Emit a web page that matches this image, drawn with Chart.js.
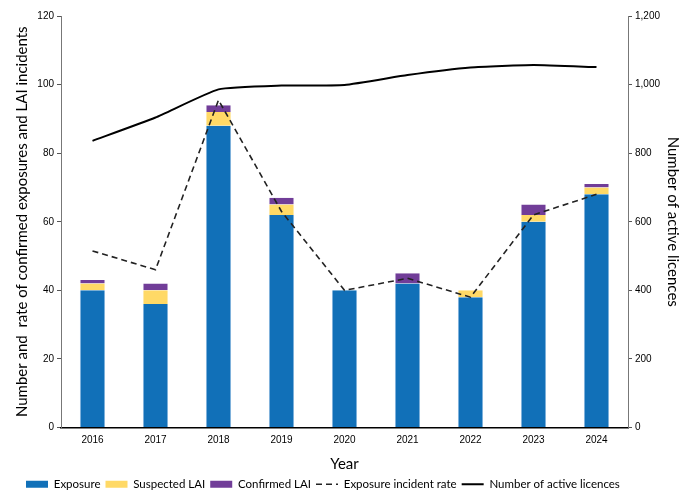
<!DOCTYPE html>
<html>
<head>
<meta charset="utf-8">
<script src="https://cdn.jsdelivr.net/npm/chart.js@4.4.1/dist/chart.umd.min.js"></script>
<style>
html,body{margin:0;padding:0;background:#fff;}
#wrap{width:692px;height:502px;}
</style>
</head>
<body>
<div id="wrap"><canvas id="c" width="692" height="502"></canvas></div>
<script>
const years = ['2016','2017','2018','2019','2020','2021','2022','2023','2024'];
const exposure = [40, 36, 88, 62, 40, 42, 38, 60, 68];
const suspectedLAI = [2, 4, 4, 3, 0, 0, 2, 2, 2];
const confirmedLAI = [1, 2, 2, 2, 0, 3, 0, 3, 1];
const incidentRate = [51.5, 46, 95.5, 63, 40, 43.5, 38, 62, 68];
const activeLicences = [836, 904, 986, 997, 999, 1028, 1050, 1057, 1051];
const leftTicks = [0, 20, 40, 60, 80, 100, 120];
const rightTicks = [0, 200, 400, 600, 800, 1000, 1200];

const tickFont = {family: 'Liberation Sans, Arial, sans-serif', size: 10};
const titleFont = {family: 'Lato, sans-serif', size: 15};

const legendShift = {
  id: 'legendShift',
  afterLayout(chart) {
    if (chart.legend) { chart.legend.left += 17; chart.legend.right += 17; }
  }
};

new Chart(document.getElementById('c'), {
  type: 'bar',
  data: {
    labels: years,
    datasets: [
      {label: 'Exposure', data: exposure, backgroundColor: '#1170b8', borderColor: '#7fb1dc', borderWidth: {left:1,right:1,top:0,bottom:0}, stack: 's', yAxisID: 'y', order: 2, barPercentage: 0.8, categoryPercentage: 0.5, pointStyle: 'rect'},
      {label: 'Suspected LAI', data: suspectedLAI, backgroundColor: '#ffd966', borderColor: '#ffe9a8', borderWidth: {left:1,right:1,top:0,bottom:0}, stack: 's', yAxisID: 'y', order: 2, barPercentage: 0.8, categoryPercentage: 0.5, pointStyle: 'rect'},
      {label: 'Confirmed LAI', data: confirmedLAI, backgroundColor: '#713d98', borderColor: '#b79ccc', borderWidth: {left:1,right:1,top:0,bottom:0}, stack: 's', yAxisID: 'y', order: 2, barPercentage: 0.8, categoryPercentage: 0.5, pointStyle: 'rect'},
      {type: 'line', label: 'Exposure incident rate', data: incidentRate, borderColor: '#222', backgroundColor: 'transparent', borderWidth: 1.6, borderDash: [6, 4], pointRadius: 0, tension: 0, yAxisID: 'y', order: 1, pointStyle: 'line'},
      {type: 'line', label: 'Number of active licences', data: activeLicences, borderColor: '#000', backgroundColor: 'transparent', borderWidth: 2, pointRadius: 0, tension: 0.15, yAxisID: 'y1', order: 0, pointStyle: 'line'}
    ]
  },
  plugins: [legendShift],
  options: {
    responsive: false,
    animation: false,
    devicePixelRatio: 1,
    layout: {padding: {top: 16, left: 4, right: 10, bottom: 2}},
    plugins: {
      tooltip: {enabled: false},
      legend: {
        position: 'bottom',
        align: 'start',
        labels: {
          usePointStyle: true,
          pointStyleWidth: 22,
          boxHeight: 7,
          padding: 5,
          color: '#000',
          font: {family: 'Lato, sans-serif', size: 11.5},
          sort: (a, b) => a.datasetIndex - b.datasetIndex,
          generateLabels: (chart) => {
            const items = Chart.defaults.plugins.legend.labels.generateLabels(chart);
            items.forEach(it => {
              const ds = chart.data.datasets[it.datasetIndex];
              if (ds.type === 'line') {
                it.pointStyle = 'line';
                it.lineWidth = ds.borderWidth;
                it.strokeStyle = ds.borderColor;
                it.lineDash = ds.borderDash || [];
              } else {
                it.pointStyle = 'rect';
                it.lineWidth = 0;
                it.fillStyle = ds.backgroundColor;
              }
            });
            return items;
          }
        }
      }
    },
    scales: {
      x: {
        stacked: true,
        grid: {display: false, drawTicks: false},
        border: {color: '#000', width: 1.5},
        ticks: {color: '#000', font: tickFont, padding: 7},
        title: {display: true, text: 'Year', color: '#000', font: {family: 'Lato, sans-serif', size: 15}, padding: {top: 2, bottom: 0}}
      },
      y: {
        position: 'left',
        stacked: true,
        min: 0, max: 120,
        afterBuildTicks: (s) => { s.ticks = leftTicks.map(v => ({value: v})); },
        afterFit: (s) => { s.width = 57; },
        grid: {display: true, drawOnChartArea: false, drawTicks: true, tickLength: 4, color: '#555'},
        border: {color: '#777', width: 1},
        ticks: {color: '#000', font: tickFont, padding: 3},
        title: {display: true, text: 'Number and  rate of confirmed exposures and LAI incidents', color: '#000', font: titleFont, padding: {top: 9, bottom: 0}}
      },
      y1: {
        position: 'right',
        min: 0, max: 1200,
        afterBuildTicks: (s) => { s.ticks = rightTicks.map(v => ({value: v})); },
        afterFit: (s) => { s.width = 54; },
        grid: {display: true, drawOnChartArea: false, drawTicks: true, tickLength: 4, color: '#555'},
        border: {color: '#777', width: 1},
        ticks: {color: '#000', font: tickFont, padding: 3, callback: (v) => v.toLocaleString('en-US')},
        title: {display: true, text: 'Number of active licences', color: '#000', font: titleFont, padding: {top: 0, bottom: 0}}
      }
    }
  }
});
</script>
</body>
</html>
